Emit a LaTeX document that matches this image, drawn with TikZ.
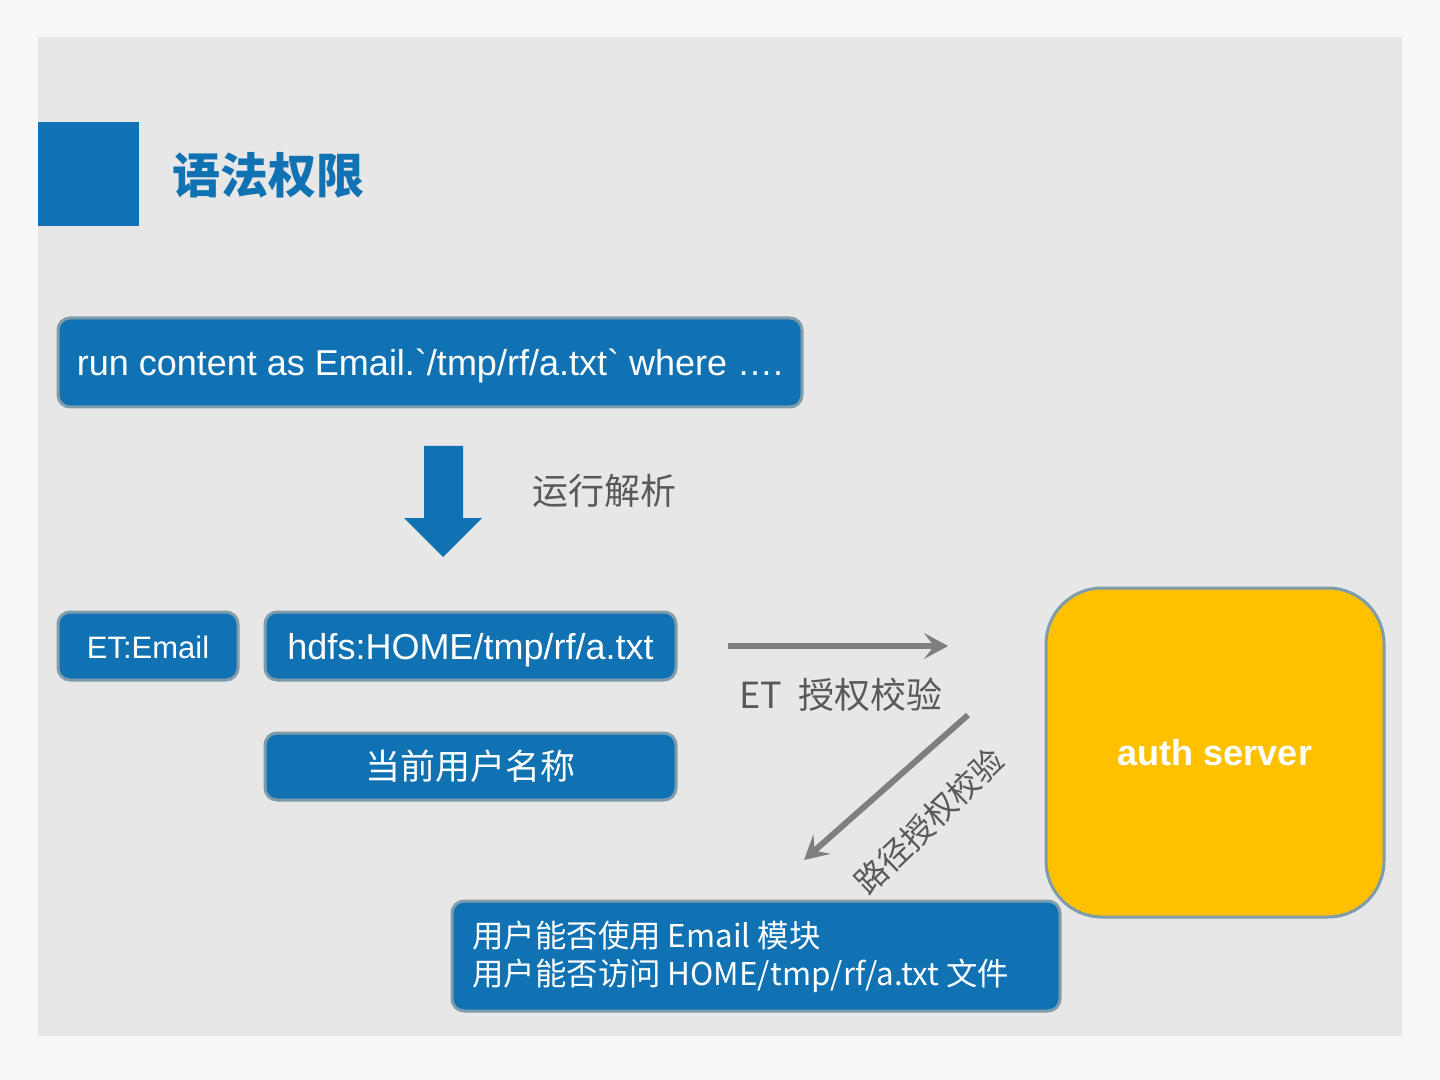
\documentclass[tikz,border=0pt]{standalone}
\usepackage{fontspec}
\setmainfont{Liberation Sans}[Ligatures=TeXOff]
\newfontfamily\cjk{Noto Sans CJK SC}
\usetikzlibrary{arrows.meta}
\definecolor{bgout}{HTML}{F7F7F7}
\definecolor{panel}{HTML}{E7E7E7}
\definecolor{mblue}{HTML}{1172B3}
\definecolor{bord}{HTML}{7F9CAB}
\definecolor{gold}{HTML}{FFC000}
\definecolor{lbl}{HTML}{595959}
\definecolor{arr}{HTML}{7F7F7F}
\begin{document}
\begin{tikzpicture}[x=0.5pt,y=-0.5pt,
 bluebox/.style={draw=bord, line width=1.5pt, fill=mblue, rounded corners=6pt, text=white, inner sep=0pt, anchor=center},
 lbltext/.style={text=lbl, inner sep=0pt, font=\cjk\fontsize{18pt}{22pt}\selectfont},
 conn/.style={draw=arr, line width=3pt, -{Stealth[length=12pt,width=13pt,inset=5pt]}}]
\useasboundingbox (0,0) rectangle (1440,1080);
\fill[bgout] (0,0) rectangle (1440,1080);
\fill[panel] (38,37) rectangle (1402,1036);
\fill[mblue] (38,122) rectangle (139,226);
\node[anchor=west, inner sep=0pt, text=mblue, font=\cjk\bfseries\fontsize{24pt}{28pt}\selectfont] (title) at (172,175) {语法权限};

\node[bluebox, minimum width=372pt, minimum height=44.5pt, font=\fontsize{18pt}{22pt}\selectfont] (query) at (430,362.5) {\raisebox{-1.5pt}[\height][\depth]{run content as Email.`/tmp/rf/a.txt` where ….}};

\fill[mblue] (424,446) -- (463,446) -- (463,518) -- (482,518) -- (443,557) -- (404,518) -- (424,518) -- cycle;
\node[lbltext, anchor=west] (parse) at (532,491) {运行解析};

\node[bluebox, minimum width=90pt, minimum height=34pt, font=\fontsize{15.5pt}{19pt}\selectfont] (et) at (148,646) {\raisebox{-0.5pt}[\height][\depth]{ET:Email}};
\node[bluebox, minimum width=205.5pt, minimum height=34pt, font=\fontsize{18pt}{22pt}\selectfont] (hdfs) at (470.5,646) {\raisebox{-2pt}[\height][\depth]{hdfs:HOME/tmp/rf/a.txt}};
\node[bluebox, minimum width=205.5pt, minimum height=33.5pt, font=\cjk\fontsize{17.5pt}{21pt}\selectfont] (user) at (470.5,766.5) {当前用户名称};

\node[draw=bord, line width=1.5pt, fill=gold, rounded corners=28pt, text=white, inner sep=0pt, minimum width=169pt, minimum height=164.5pt, font=\bfseries\fontsize{18pt}{22pt}\selectfont] (auth) at (1215,752.5) {auth server};

\node[bluebox, minimum width=304pt, minimum height=55pt] (result) at (756,956) {};
\node[anchor=west, inner sep=0pt, text=white, align=left, font=\cjk\fontsize{15.7pt}{19pt}\selectfont] (resulttext) at (472,957) {用户能否使用 Email 模块\\用户能否访问 HOME/tmp/rf/a.txt 文件};

\coordinate (h1) at (728,646);
\coordinate (h2) at (948,646);
\coordinate (d1) at (968,715);
\coordinate (d2) at (804,860);
\draw[conn] (h1) -- (h2);
\draw[conn] (d1) -- (d2);
\node[lbltext, anchor=west] (etlbl) at (739,695) {ET\ \ 授权校验};
\node[lbltext, rotate=44, font=\cjk\fontsize{16pt}{20pt}\selectfont] (pathlbl) at (929,821) {路径授权校验};
\end{tikzpicture}
\end{document}
